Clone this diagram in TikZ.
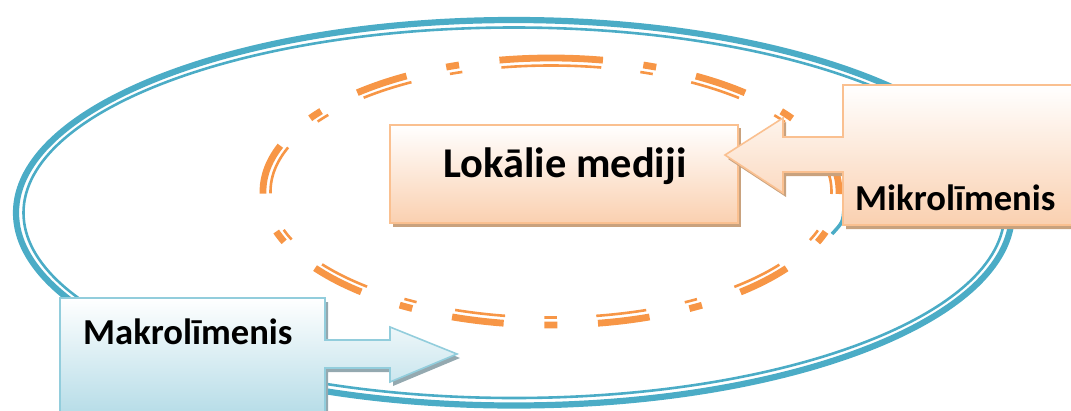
\documentclass[tikz,border=0pt]{standalone}
\usepackage{fontspec}
\setmainfont{Carlito}
\begin{document}
\begin{tikzpicture}[x=1pt,y=-1pt]
\definecolor{blueline}{HTML}{4BACC6}
\definecolor{orangeline}{HTML}{F79646}
\definecolor{peachborder}{HTML}{FAC090}
\definecolor{peachfill}{HTML}{FAD0B0}
\definecolor{peachshadow}{HTML}{C9A27E}
\definecolor{aquaborder}{HTML}{92CDDC}
\definecolor{aquafill}{HTML}{B5DCE7}
\definecolor{aquashadow}{HTML}{94A9B0}
\tikzset{
  bluering/.style={draw=blueline},
  orangering/.style={draw=orangeline},
  peachbox/.style={top color=white, bottom color=peachfill, draw=peachborder, line width=1.6},
  aquabox/.style={top color=white, bottom color=aquafill, draw=aquaborder, line width=1.6},
  label/.style={font=\bfseries\fontsize{36.6}{42}\selectfont, inner sep=0pt},
  biglabel/.style={font=\bfseries\fontsize{42.4}{48}\selectfont, inner sep=0pt}
}
\useasboundingbox (0,0) rectangle (1071,410);
\clip (0,0) rectangle (1071,410);
% outer blue ellipse (thick + thin)
\coordinate (bc) at (514,212.75);
\draw[bluering, line width=6.2] (bc) ellipse [x radius=498, y radius=192.75];
\draw[bluering, line width=2.6] (bc) ellipse [x radius=490.5, y radius=185.25];
% inner orange dash-dot ellipse (thick + thin)
\coordinate (oc) at (551,191.5);
\draw[orangering, line width=6.8, dash pattern=on 52pt off 40.7pt on 13pt off 40.7pt]
  (oc) ++(270:288 and 133.5) arc[start angle=270, end angle=630, x radius=288, y radius=133.5];
\draw[orangering, line width=2.6, dash pattern=on 50.3pt off 39.35pt on 12.57pt off 39.35pt]
  (oc) ++(270:280.5 and 126) arc[start angle=270, end angle=630, x radius=280.5, y radius=126];
% small blue arc under the Mikro box
\draw[bluering, line width=3.5] (844,208) .. controls (843,222) .. (832,234);
% Lokalie box
\fill[peachshadow] (393,128) rectangle (741,227);
\path[peachbox] (390,125) rectangle (738,223);
\node[biglabel, anchor=base] (lok) at (565,177) {Lokālie mediji};
% Makro callout
\fill[aquashadow] (63,302) -- (328,302) -- (328,344) -- (393,344) -- (393,331) -- (460,358)
  -- (393,386) -- (393,372) -- (328,372) -- (328,420) -- (63,420) -- cycle;
\path[aquabox] (60,298) -- (325,298) -- (325,340) -- (390,340) -- (390,327) -- (457,354)
  -- (390,382) -- (390,368) -- (325,368) -- (325,416) -- (60,416) -- cycle;
\node[label, anchor=base west] (makro) at (83,344) {Makrolīmenis};
% Mikro callout
\fill[peachshadow] (846,89) -- (1080,89) -- (1080,229) -- (846,229) -- (846,176) -- (786,176)
  -- (786,197) -- (728,159) -- (786,122) -- (786,141) -- (846,141) -- cycle;
\path[peachbox] (843,85) -- (1080,85) -- (1080,225) -- (843,225) -- (843,172) -- (783,172)
  -- (783,193) -- (725,155) -- (783,118) -- (783,137) -- (843,137) -- cycle;
\node[label, anchor=base west] (mikro) at (855,210) {Mikrolīmenis};
\end{tikzpicture}
\end{document}
